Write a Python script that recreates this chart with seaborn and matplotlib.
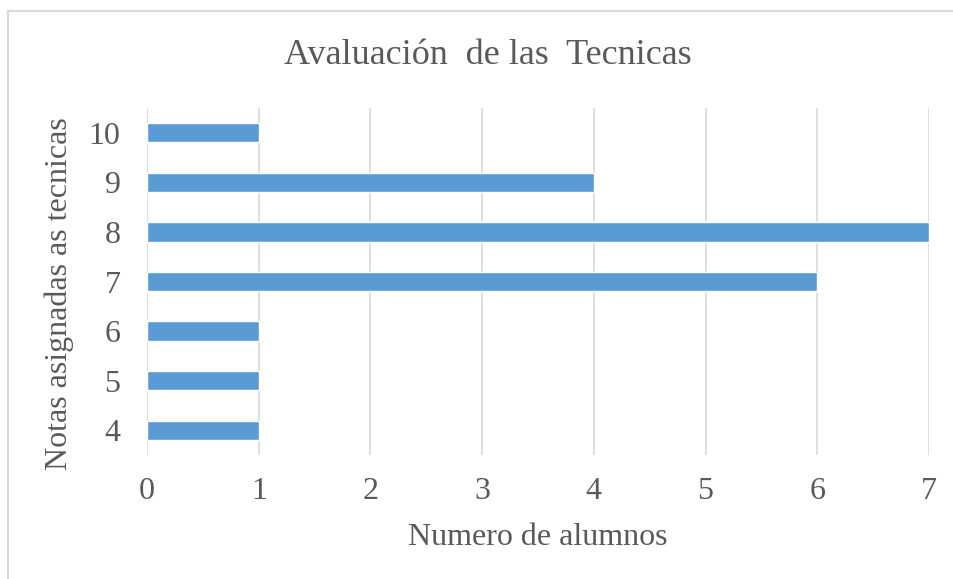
import matplotlib
matplotlib.use("Agg")
import matplotlib.pyplot as plt
import seaborn as sns
import pandas as pd

# Notas (de arriba a abajo) y numero de alumnos
notas = ['10', '9', '8', '7', '6', '5', '4']
alumnos = [1, 4, 7, 6, 1, 1, 1]

df = pd.DataFrame({'nota': notas, 'alumnos': alumnos})

sns.set_theme(style='white')
plt.rcParams['font.family'] = ['Liberation Serif', 'DejaVu Serif']
text_color = '#595959'

W, H = 954, 579
fig = plt.figure(figsize=(W / 100, H / 100), dpi=100)
# plot area: x 147..929 px, y 108..455 px
ax = fig.add_axes([147 / W, 1 - 455 / H, (929 - 147) / W, (455 - 108) / H])

sns.barplot(data=df, x='alumnos', y='nota', order=notas, color='#5B9BD5',
            saturation=1, width=0.39, ax=ax)

ax.set_xlim(0, 7)
ax.set_xticks(range(0, 8))
ax.grid(axis='x', color='#D9D9D9', linewidth=1.2)
ax.set_axisbelow(True)
for s in ax.spines.values():
    s.set_visible(False)
ax.tick_params(axis='both', length=0, labelsize=23, labelcolor=text_color)
ax.tick_params(axis='x', pad=16)
ax.tick_params(axis='y', pad=19)

fig.text(488 / W, 1 - 55 / H, 'Avaluación  de las  Tecnicas', fontsize=26,
         color=text_color, ha='center', va='center')
ax.set_xlabel('Numero de alumnos', fontsize=23, color=text_color, labelpad=12)
ax.set_ylabel('Notas asignadas as tecnicas', fontsize=23, color=text_color)
ax.yaxis.set_label_coords(-0.093, 0.465)

# borde del grafico (solo se ve arriba y a la izquierda)
fig.add_artist(plt.Line2D([8 / W, 8 / W], [0, 1 - 11 / H], transform=fig.transFigure,
                          color='#D9D9D9', linewidth=1.5))
fig.add_artist(plt.Line2D([8 / W, 1], [1 - 11 / H, 1 - 11 / H], transform=fig.transFigure,
                          color='#D9D9D9', linewidth=1.5))

plt.savefig('out.png', dpi=100)
plt.close()
